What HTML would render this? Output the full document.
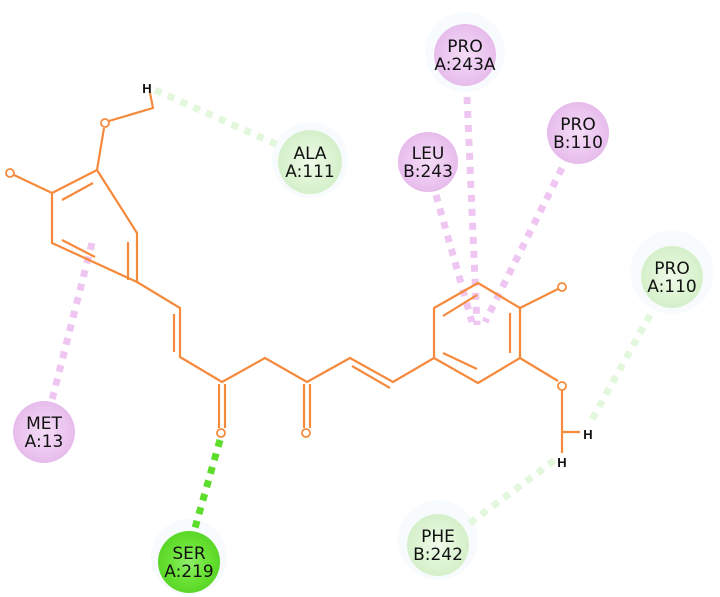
<!DOCTYPE html>
<html><head><meta charset="utf-8"><style>
html,body{margin:0;padding:0;background:#fff}
svg{display:block}
text{font-family:"DejaVu Sans","Liberation Sans",sans-serif;font-size:17px;fill:#111;text-anchor:middle}
.h{font-family:"Liberation Sans",sans-serif;font-weight:bold;font-size:13px}
</style></head><body>
<svg width="720" height="597" viewBox="0 0 720 597" xmlns="http://www.w3.org/2000/svg">
<defs>
<radialGradient id="pk"><stop offset="0" stop-color="#f4dcf6"/><stop offset="0.7" stop-color="#ebc6f0"/><stop offset="1" stop-color="#e6bbeb"/></radialGradient>
<radialGradient id="gr"><stop offset="0" stop-color="#eefae8"/><stop offset="0.7" stop-color="#dcf3d2"/><stop offset="1" stop-color="#d5efca"/></radialGradient>
<radialGradient id="sg"><stop offset="0" stop-color="#8ef06a"/><stop offset="0.7" stop-color="#66e030"/><stop offset="1" stop-color="#5ad628"/></radialGradient>
</defs>
<g fill="#f7fbfd">
<circle cx="465" cy="52" r="40"/><circle cx="310" cy="160" r="38"/><circle cx="672" cy="272" r="42"/><circle cx="438" cy="540" r="40"/><circle cx="189" cy="557" r="38"/>
</g>
<g stroke-width="7" stroke-dasharray="7 7" fill="none">
<line x1="467" y1="97" x2="477" y2="325" stroke="#efc6f2"/>
<line x1="436" y1="195" x2="472" y2="322" stroke="#efc6f2"/>
<line x1="562" y1="168" x2="485" y2="322" stroke="#efc6f2"/>
<line x1="92" y1="243" x2="52" y2="400" stroke="#efc6f2"/>
<line x1="155" y1="90" x2="278" y2="145" stroke="#e2f7dc"/>
<line x1="650" y1="315" x2="590" y2="423" stroke="#e2f7dc"/>
<line x1="470" y1="523" x2="555" y2="460" stroke="#e2f7dc"/>
<line x1="220" y1="440" x2="195" y2="528" stroke="#5edc2c"/>
</g>
<g stroke="#f68a3c" stroke-width="2.2" fill="none" stroke-linejoin="round">
<polyline points="97,170 52,193 52,243 137,282 137,233 97,170"/>
<line x1="62" y1="200" x2="93" y2="183"/>
<line x1="62" y1="240" x2="95" y2="257"/>
<line x1="128" y1="242" x2="128" y2="280"/>
<line x1="52" y1="193" x2="14" y2="175"/>
<line x1="97" y1="170" x2="104" y2="128"/>
<polyline points="109,121 153,108 150,93"/>
<polyline points="137,282 180,308 180,357 222,382 265,358 307,382 350,358 393,382 434,358"/>
<line x1="174" y1="314" x2="174" y2="352"/>
<line x1="352" y1="366" x2="390" y2="388"/>
<line x1="219" y1="384" x2="219" y2="428"/><line x1="225" y1="384" x2="225" y2="428"/>
<line x1="304" y1="384" x2="304" y2="428"/><line x1="310" y1="384" x2="310" y2="428"/>
<polygon points="434,308 478,283 520,308 520,358 478,383 434,358"/>
<line x1="443" y1="316" x2="477" y2="295"/>
<line x1="443" y1="353" x2="477" y2="369"/>
<line x1="510" y1="313" x2="510" y2="353"/>
<line x1="520" y1="308" x2="558" y2="289"/>
<line x1="520" y1="358" x2="558" y2="381"/>
<polyline points="562,390 562,453"/>
<line x1="562" y1="432" x2="580" y2="432"/>
</g>
<g stroke="#f68a3c" stroke-width="1.8" fill="#fff">
<circle cx="10" cy="173" r="4"/><circle cx="105" cy="123" r="4"/>
<circle cx="221" cy="433" r="4"/><circle cx="306" cy="433" r="4"/>
<circle cx="562" cy="287" r="4"/><circle cx="562" cy="386" r="4"/>
</g>
<text class="h" x="147" y="93">H</text>
<text class="h" x="588" y="439">H</text>
<text class="h" x="562" y="467">H</text>
<circle cx="465" cy="55" r="31" fill="url(#pk)"/>
<text x="465" y="52">PRO</text><text x="465" y="70">A:243A</text>
<circle cx="428" cy="162" r="30" fill="url(#pk)"/>
<text x="428" y="159">LEU</text><text x="428" y="177">B:243</text>
<circle cx="578" cy="133" r="31" fill="url(#pk)"/>
<text x="578" y="130">PRO</text><text x="578" y="148">B:110</text>
<circle cx="44" cy="432" r="31" fill="url(#pk)"/>
<text x="44" y="429">MET</text><text x="44" y="447">A:13</text>
<circle cx="310" cy="162" r="32" fill="url(#gr)"/>
<text x="310" y="159">ALA</text><text x="310" y="177">A:111</text>
<circle cx="672" cy="277" r="31" fill="url(#gr)"/>
<text x="672" y="274">PRO</text><text x="672" y="292">A:110</text>
<circle cx="438" cy="545" r="31" fill="url(#gr)"/>
<text x="438" y="542">PHE</text><text x="438" y="560">B:242</text>
<circle cx="189" cy="562" r="31" fill="url(#sg)"/>
<text x="189" y="559">SER</text><text x="189" y="577">A:219</text>
</svg>
</body></html>
